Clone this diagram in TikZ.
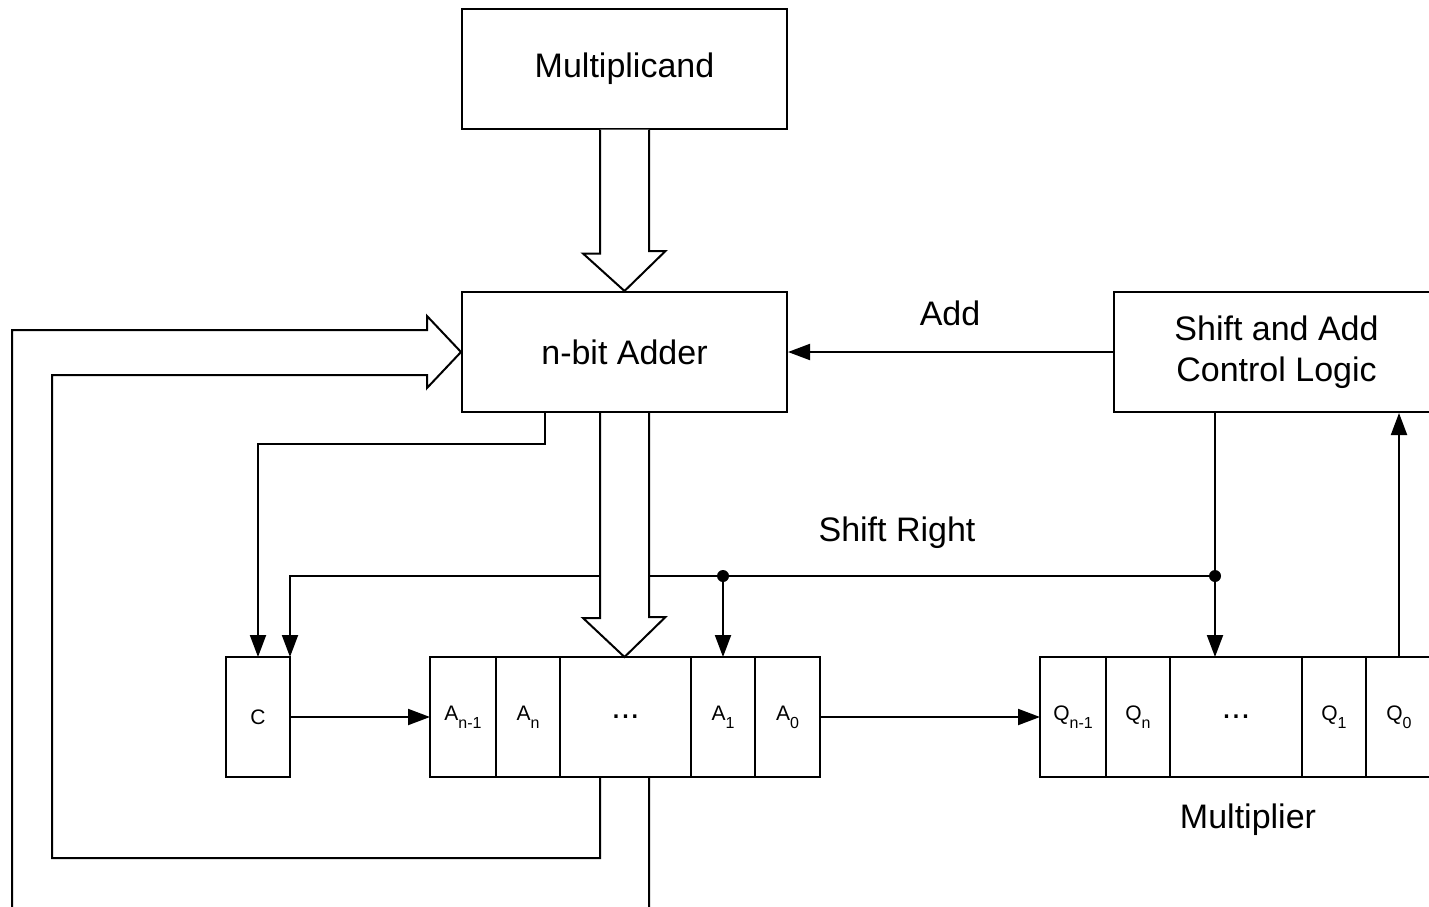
\documentclass[tikz,border=0pt]{standalone}
\usepackage{fontspec}
\setmainfont{Liberation Sans}
\usetikzlibrary{positioning,arrows.meta}
\newcommand{\bigtxt}{\fontsize{17}{20.5}\selectfont}
\newcommand{\celltxt}{\fontsize{10.5}{12}\selectfont}
\newcommand{\lowsub}[1]{\raisebox{-0.7ex}{\fontsize{8}{9}\selectfont #1}}
\tikzset{
  blk/.style={draw, minimum width=162.5pt, minimum height=60pt, font=\bigtxt, align=center},
  cell/.style={draw, outer sep=0pt, inner sep=0pt, minimum height=60pt, font=\celltxt},
  sig/.style={-{Triangle[length=11pt,width=8pt]}},
  bus/.style={draw, fill=white},
  lbl/.style={font=\bigtxt, inner sep=0pt}
}

\begin{document}
\begin{tikzpicture}[x=0.5pt,y=-0.5pt,line width=1pt]
        \clip (0,0) rectangle (1429,906); %picture is cut at the right and bottom
        
        % Blocks
        \node[blk] (mcand) at (624.5,68.5) {Multiplicand};
        \node[blk] (adder) at (624.5,352) {n-bit Adder};
        \node[blk] (ctrl) at (1276.5,352) {Shift and Add\\Control Logic};
        
        % Carry and A register
        \node[cell, minimum width=32pt] (creg) at (258,717) {C};
        \node[cell, minimum width=33pt] (a1) at (463,717) {A\lowsub{n-1}};
        \node[cell, minimum width=32pt, right=0pt of a1] (a2) {A\lowsub{n}};
        \node[cell, minimum width=65.5pt, right=0pt of a2, font=\bigtxt] (a3) {...};
        \node[cell, minimum width=32pt, right=0pt of a3] (a4) {A\lowsub{1}};
        \node[cell, minimum width=32.5pt, right=0pt of a4] (a5) {A\lowsub{0}};
        
        % Q register
        \node[cell, minimum width=33pt] (q1) at (1073,717) {Q\lowsub{n-1}};
        \node[cell, minimum width=32pt, right=0pt of q1] (q2) {Q\lowsub{n}};
        \node[cell, minimum width=66pt, right=0pt of q2, font=\bigtxt] (q3) {...};
        \node[cell, minimum width=32pt, right=0pt of q3] (q4) {Q\lowsub{1}};
        \node[cell, minimum width=33pt, right=0pt of q4] (q5) {Q\lowsub{0}};
        
        % Labels
        \node[lbl] (addlbl) at (950,313) {Add};
        \node[lbl] (srlbl) at (897,533) {Shift Right};
        \node[lbl] (mplbl) at (1248,820) {Multiplier};
        
        % Control lines
        \coordinate (srdot) at (1215,576);
        \coordinate (adot) at (a4.north |- srdot);
        \draw[sig] (ctrl.west) -- (adder.east);
        \draw[sig] ([xshift=-39.75pt]adder.south) -- ++(0,31) -| (creg.north);
        \draw[sig] (srdot |- ctrl.south) -- (srdot |- q3.north);
        \draw (srdot) -- (adot);
        \draw[sig] (adot) -| (creg.north east);
        \draw[sig] (adot) -- (a4.north);
        \fill (srdot) circle (3pt) (adot) circle (3pt);
        \draw[sig] (creg.east) -- (a1.west);
        \draw[sig] (a5.east) -- (q1.west);
        \draw[sig] (q5.north) -- (q5.north |- ctrl.south);
        
        % Wide buses
        \draw[bus] ([xshift=-12.25pt]mcand.south) -- ++(0,124) -- ++(-17,0) -- (adder.north) -- ++(41,-40) -- ++(-16.5,0) -- ([xshift=12.25pt]mcand.south);
        \draw[bus] ([xshift=-12.25pt]adder.south) -- ++(0,205) -- ++(-17,0) -- (adder.south |- a3.north) -- ++(41,-40) -- ++(-16.5,0) -- ([xshift=12.25pt]adder.south);
        \draw ([xshift=-12.25pt]adder.south |- a3.south) -- ++(0,81) -| (52,375) -- (427,375) -- (427,388) -- (adder.west) -- (427,316) -- (427,330) -- (12,330) |- (649,930) -- ([xshift=12.25pt]adder.south |- a3.south);
        
\end{tikzpicture}
\end{document}
